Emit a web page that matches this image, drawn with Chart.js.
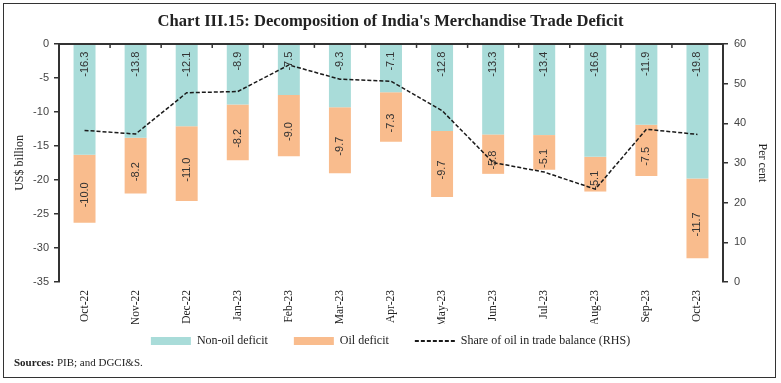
<!DOCTYPE html>
<html><head><meta charset="utf-8">
<script src="https://cdn.jsdelivr.net/npm/chart.js@4.4.1/dist/chart.umd.min.js"></script>
<style>
html,body{margin:0;padding:0;background:#fff;}
#wrap{position:relative;width:781px;height:383px;}
#c{position:absolute;left:0;top:0;}
#frame{position:absolute;left:3px;top:3px;width:773px;height:375px;border:1.5px solid #333;box-sizing:border-box;pointer-events:none;}
#src{position:absolute;left:14px;top:356px;font:11px "Liberation Serif",serif;color:#222;white-space:nowrap;}
</style></head><body>
<div id="wrap"><canvas id="c" width="781" height="383"></canvas><div id="frame"></div><div id="src"><b>Sources:</b> PIB; and DGCI&amp;S.</div></div>
<script>
const months = ['Oct-22','Nov-22','Dec-22','Jan-23','Feb-23','Mar-23','Apr-23','May-23','Jun-23','Jul-23','Aug-23','Sep-23','Oct-23'];
const nonOilDeficit = [-16.3,-13.8,-12.1,-8.9,-7.5,-9.3,-7.1,-12.8,-13.3,-13.4,-16.6,-11.9,-19.8];
const oilDeficit = [-10.0,-8.2,-11.0,-8.2,-9.0,-9.7,-7.3,-9.7,-5.8,-5.1,-5.1,-7.5,-11.7];
const oilShare = [38.2,37.3,47.7,48.0,54.7,51.1,50.6,43.2,30.1,27.7,23.4,38.5,37.2];
const leftRange = {min:-35, max:0, step:5};
const rightRange = {min:0, max:60, step:10};

const SERIF = '"Liberation Serif", "DejaVu Serif", serif';
const SANS = '"Liberation Sans", "DejaVu Sans", sans-serif';

const barLabels = {
  id:'barLabels',
  afterDatasetDraw(chart, args){
    const meta = args.meta;
    if (meta.type !== 'bar') return;
    const ds = chart.data.datasets[args.index];
    const ctx = chart.ctx;
    ctx.save();
    ctx.font = '11px ' + SANS;
    ctx.fillStyle = '#333';
    ctx.textBaseline = 'middle';
    meta.data.forEach((el, i) => {
      const txt = ds.data[i].toFixed(1);
      const top = Math.min(el.y, el.base), bot = Math.max(el.y, el.base);
      ctx.save();
      if (ds.labelPos === 'start') {
        ctx.translate(el.x, top + 7);
        ctx.rotate(-Math.PI/2);
        ctx.textAlign = 'right';
      } else {
        ctx.translate(el.x, (top + bot)/2 + 6);
        ctx.rotate(-Math.PI/2);
        ctx.textAlign = 'center';
      }
      ctx.fillText(txt, 0, 0);
      ctx.restore();
    });
    ctx.restore();
  }
};

const topAxis = {
  id:'topAxis',
  afterDatasetsDraw(chart){
    const {ctx, chartArea:{left,right}, scales:{x,y}} = chart;
    const y0 = y.getPixelForValue(0);
    ctx.save();
    ctx.strokeStyle = '#333';
    ctx.lineWidth = 2;
    ctx.beginPath(); ctx.moveTo(left, y0); ctx.lineTo(right, y0); ctx.stroke();
    ctx.lineWidth = 1.5;
    for (let i = 1; i < months.length; i++) {
      const xp = (x.getPixelForValue(i-1) + x.getPixelForValue(i)) / 2;
      ctx.beginPath(); ctx.moveTo(xp, y0 - 1); ctx.lineTo(xp, y0 + 4); ctx.stroke();
    }
    ctx.restore();
  }
};

// pull the legend row up so it sits just under the rotated month labels
const legendShift = {
  id:'legendShift',
  afterLayout(chart){
    const lg = chart.legend;
    if (!lg) return;
    const h = lg.height;
    lg.top = chart.chartArea.bottom + 27;
    lg.bottom = lg.top + h;
  }
};

new Chart(document.getElementById('c'), {
  data: {
    labels: months,
    datasets: [
      {type:'bar', label:'Non-oil deficit', data:nonOilDeficit, backgroundColor:'#A9DCD9', borderWidth:0, stack:'s', order:1, labelPos:'start', barPercentage:0.86, categoryPercentage:0.5},
      {type:'bar', label:'Oil deficit', data:oilDeficit, backgroundColor:'#F9BC8D', borderWidth:0, stack:'s', order:1, labelPos:'center', barPercentage:0.86, categoryPercentage:0.5},
      {type:'line', label:'Share of oil in trade balance (RHS)', data:oilShare, yAxisID:'y1', borderColor:'#1a1a1a', borderWidth:1.5, borderDash:[4,2], pointRadius:0, tension:0, fill:false, order:0}
    ]
  },
  options: {
    responsive:false,
    animation:false,
    devicePixelRatio:1,
    layout:{padding:{left:0,right:0,top:0,bottom:11}},
    plugins:{
      tooltip:{enabled:false},
      title:{display:true, text:"Chart III.15: Decomposition of India's Merchandise Trade Deficit", color:'#222', font:{family:SERIF, size:16.6, weight:'bold'}, padding:{top:12,bottom:12}},
      legend:{
        position:'bottom',
        labels:{
          font:{family:SERIF, size:12}, color:'#222', padding:26,
          usePointStyle:true, pointStyleWidth:40, boxWidth:40, boxHeight:8,
          sort:(a,b)=>a.datasetIndex-b.datasetIndex,
          generateLabels(chart){
            const items = Chart.defaults.plugins.legend.labels.generateLabels(chart);
            items.forEach(it => {
              const ds = chart.data.datasets[it.datasetIndex];
              if (ds.type === 'line') { it.pointStyle = 'line'; it.lineWidth = 2; it.lineDash = [4,2]; it.strokeStyle = '#1a1a1a'; }
              else { it.pointStyle = 'rect'; it.lineWidth = 0; }
            });
            return items;
          }
        }
      }
    },
    scales:{
      x:{
        stacked:true,
        grid:{display:false, drawTicks:false},
        border:{display:false},
        ticks:{minRotation:90, maxRotation:90, padding:8, color:'#222', font:{family:SERIF, size:11.5}, autoSkip:false},
        afterFit(s){ s.height = 42; }
      },
      y:{
        stacked:true,
        position:'left',
        min:leftRange.min, max:leftRange.max,
        ticks:{stepSize:leftRange.step, padding:5, color:'#444', font:{family:SANS, size:11}},
        grid:{drawOnChartArea:false, drawTicks:true, tickLength:5, color:'#333', lineWidth:1.5},
        border:{display:true, color:'#333', width:2},
        title:{display:true, text:'US$ billion', color:'#222', font:{family:SERIF, size:12}, padding:{top:13,bottom:0}},
        afterFit(s){ s.width = 59; }
      },
      y1:{
        position:'right',
        min:rightRange.min, max:rightRange.max,
        ticks:{stepSize:rightRange.step, padding:6, color:'#444', font:{family:SANS, size:11}},
        grid:{drawOnChartArea:false, drawTicks:true, tickLength:5, color:'#333', lineWidth:1.5},
        border:{display:true, color:'#333', width:2},
        title:{display:true, text:'Per cent', color:'#222', font:{family:SERIF, size:12}, padding:{top:12,bottom:0}},
        afterFit(s){ s.width = 58; }
      }
    }
  },
  plugins:[barLabels, topAxis, legendShift]
});
</script>
</body></html>
